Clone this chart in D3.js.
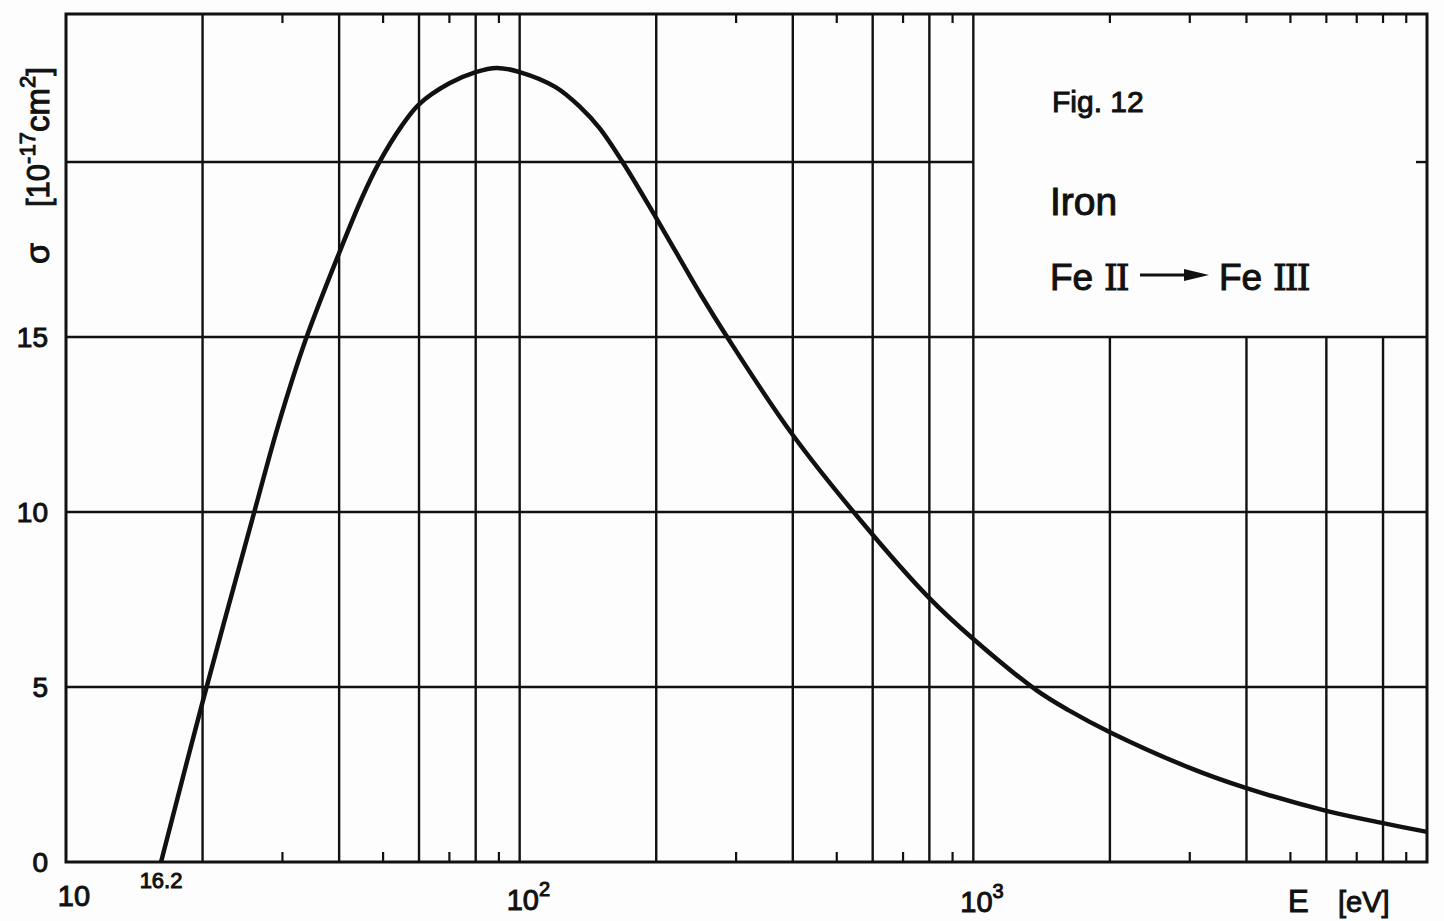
<!DOCTYPE html>
<html>
<head>
<meta charset="utf-8">
<script src="https://cdn.jsdelivr.net/npm/d3@7"></script>
<style>
  html, body { margin: 0; padding: 0; background: #fdfdfd; }
  svg { display: block; }
  text { font-family: "Liberation Sans", "DejaVu Sans", sans-serif; fill: #111; stroke: #111; stroke-width: 1px; }
</style>
</head>
<body>
<svg id="chart" width="1444" height="921"></svg>
<script>
// Ionization cross section of Fe II -> Fe III versus electron energy
const energy = [16.2, 20, 26, 29.4, 33.7, 40, 45, 48.9, 55, 60, 70, 80, 89, 100, 120, 136, 150, 168.6, 200, 251, 285, 400, 600, 800, 1000, 1377, 1620, 2000, 3000, 4000, 6000, 8000, 10000];
const sigma  = [0, 4.57, 10.0, 12.5, 14.9, 17.4, 19.0, 19.96, 21.04, 21.65, 22.25, 22.57, 22.69, 22.57, 22.14, 21.57, 20.97, 20.0, 18.4, 16.2, 15.05, 12.2, 9.35, 7.54, 6.37, 4.91, 4.34, 3.71, 2.69, 2.11, 1.46, 1.11, 0.86];

// Grid and tick positions on the energy axis
const gridFull = [20, 40, 60, 80, 100, 200, 400, 600, 800, 1000];
const gridLow = [2000, 4000, 6000, 8000];
const minorTicks = [30, 50, 70, 90, 300, 500, 700, 900];
const minorTicksHigh = [3000, 5000, 7000, 9000];
const topTicksHigh = [2000, 3000, 4000, 5000, 6000, 7000, 8000, 9000];

// Sigma axis
const yGrid = [5, 10, 15];
const yGridShort = [20];
const yTickLabels = ["0", "5", "10", "15"];
const yTickValues = [0, 5, 10, 15];

const svg = d3.select("#chart");
const plotL = 66, plotR = 1427, plotT = 14, plotB = 862;

const x = d3.scaleLog().domain([10, 10000]).range([plotL, plotR]);
const y = d3.scaleLinear().domain([0, 24.23]).range([plotB, plotT]);

const ink = "#111";
const g = svg.append("g");

// vertical grid lines spanning the full height
g.selectAll("line.vgrid").data(gridFull).enter().append("line")
  .attr("x1", d => x(d)).attr("x2", d => x(d))
  .attr("y1", plotT).attr("y2", plotB)
  .attr("stroke", ink).attr("stroke-width", 2.4);

// vertical grid lines below the legend area
g.selectAll("line.vgridlow").data(gridLow).enter().append("line")
  .attr("x1", d => x(d)).attr("x2", d => x(d))
  .attr("y1", y(15)).attr("y2", plotB)
  .attr("stroke", ink).attr("stroke-width", 2.4);

// horizontal grid lines
g.selectAll("line.hgrid").data(yGrid).enter().append("line")
  .attr("x1", plotL).attr("x2", plotR)
  .attr("y1", d => y(d)).attr("y2", d => y(d))
  .attr("stroke", ink).attr("stroke-width", 2.4);

g.selectAll("line.hgridshort").data(yGridShort).enter().append("line")
  .attr("x1", plotL).attr("x2", x(1000))
  .attr("y1", d => y(d)).attr("y2", d => y(d))
  .attr("stroke", ink).attr("stroke-width", 2.4);

// short tick on the right edge at 20
g.selectAll("line.rtick").data(yGridShort).enter().append("line")
  .attr("x1", plotR - 11).attr("x2", plotR)
  .attr("y1", d => y(d)).attr("y2", d => y(d))
  .attr("stroke", ink).attr("stroke-width", 2.4);

// minor ticks on the bottom axis (pointing up)
g.selectAll("line.btick").data(minorTicks.concat(minorTicksHigh)).enter().append("line")
  .attr("x1", d => x(d)).attr("x2", d => x(d))
  .attr("y1", plotB - 10).attr("y2", plotB)
  .attr("stroke", ink).attr("stroke-width", 2.2);

// minor ticks on the top axis (pointing down)
g.selectAll("line.ttick").data(minorTicks.concat(topTicksHigh)).enter().append("line")
  .attr("x1", d => x(d)).attr("x2", d => x(d))
  .attr("y1", plotT).attr("y2", plotT + 9)
  .attr("stroke", ink).attr("stroke-width", 2.2);

// frame
g.append("rect")
  .attr("x", plotL).attr("y", plotT)
  .attr("width", plotR - plotL).attr("height", plotB - plotT)
  .attr("fill", "none").attr("stroke", ink).attr("stroke-width", 3);

// cross-section curve
const line = d3.line()
  .x((d, i) => x(energy[i]))
  .y((d, i) => y(sigma[i]))
  .curve(d3.curveCatmullRom.alpha(0.5));

g.append("path")
  .datum(sigma)
  .attr("d", line)
  .attr("fill", "none")
  .attr("stroke", ink)
  .attr("stroke-width", 4.5)
  .attr("stroke-linejoin", "round");

// y tick labels
g.selectAll("text.ylab").data(yTickValues).enter().append("text")
  .attr("x", 48).attr("y", d => y(d) + 10)
  .attr("text-anchor", "end")
  .attr("font-size", 28)
  .text((d, i) => yTickLabels[i]);

// x axis labels
const xl = g.append("g").attr("font-size", 29);
xl.append("text").attr("x", x(10) + 8).attr("y", 906).attr("text-anchor", "middle").text("10");
xl.append("text").attr("x", x(16.2)).attr("y", 888).attr("text-anchor", "middle").attr("font-size", 22).text("16.2");

function decadeLabel(val, exp, baseY) {
  const t = xl.append("text").attr("x", x(val) - 13).attr("y", baseY);
  t.append("tspan").text("10");
  t.append("tspan").attr("dy", -14).attr("font-size", 20).text(exp);
}
decadeLabel(100, "2", 910);
decadeLabel(1000, "3", 912);

xl.append("text").attr("x", 1288).attr("y", 912).attr("font-size", 31).text("E");
xl.append("text").attr("x", 1338).attr("y", 912).attr("font-size", 29).text("[eV]");

// y axis title, rotated
const yt = g.append("text")
  .attr("transform", "translate(49,264) rotate(-90)")
  .attr("font-size", 34);
yt.append("tspan").text("σ");
yt.append("tspan").attr("dx", 36).attr("font-size", 31).text("[10");
yt.append("tspan").attr("dy", -14).attr("font-size", 22).text("-17");
yt.append("tspan").attr("dy", 14).attr("font-size", 33).text("cm");
yt.append("tspan").attr("dy", -14).attr("font-size", 22).text("2");
yt.append("tspan").attr("dy", 14).attr("font-size", 31).text("]");

// legend block
const lg = g.append("g");
lg.append("text").attr("x", 1052).attr("y", 112).attr("font-size", 30).text("Fig. 12");
lg.append("text").attr("x", 1050).attr("y", 215).attr("font-size", 39).text("Iron");

const roman = "'DejaVu Serif', 'Liberation Serif', serif";
lg.append("text").attr("x", 1050).attr("y", 290).attr("font-size", 37).text("Fe");
lg.append("text").attr("x", 1104).attr("y", 290).attr("font-size", 35)
  .style("font-family", roman).attr("letter-spacing", -2).text("II");

lg.append("line").attr("x1", 1140).attr("x2", 1188).attr("y1", 275).attr("y2", 275)
  .attr("stroke", ink).attr("stroke-width", 3);
lg.append("path").attr("d", "M1184,269 L1209,275 L1184,281 Z").attr("fill", ink);

lg.append("text").attr("x", 1219).attr("y", 290).attr("font-size", 37).text("Fe");
lg.append("text").attr("x", 1273).attr("y", 290).attr("font-size", 35)
  .style("font-family", roman).attr("letter-spacing", -2).text("III");
</script>
</body>
</html>
